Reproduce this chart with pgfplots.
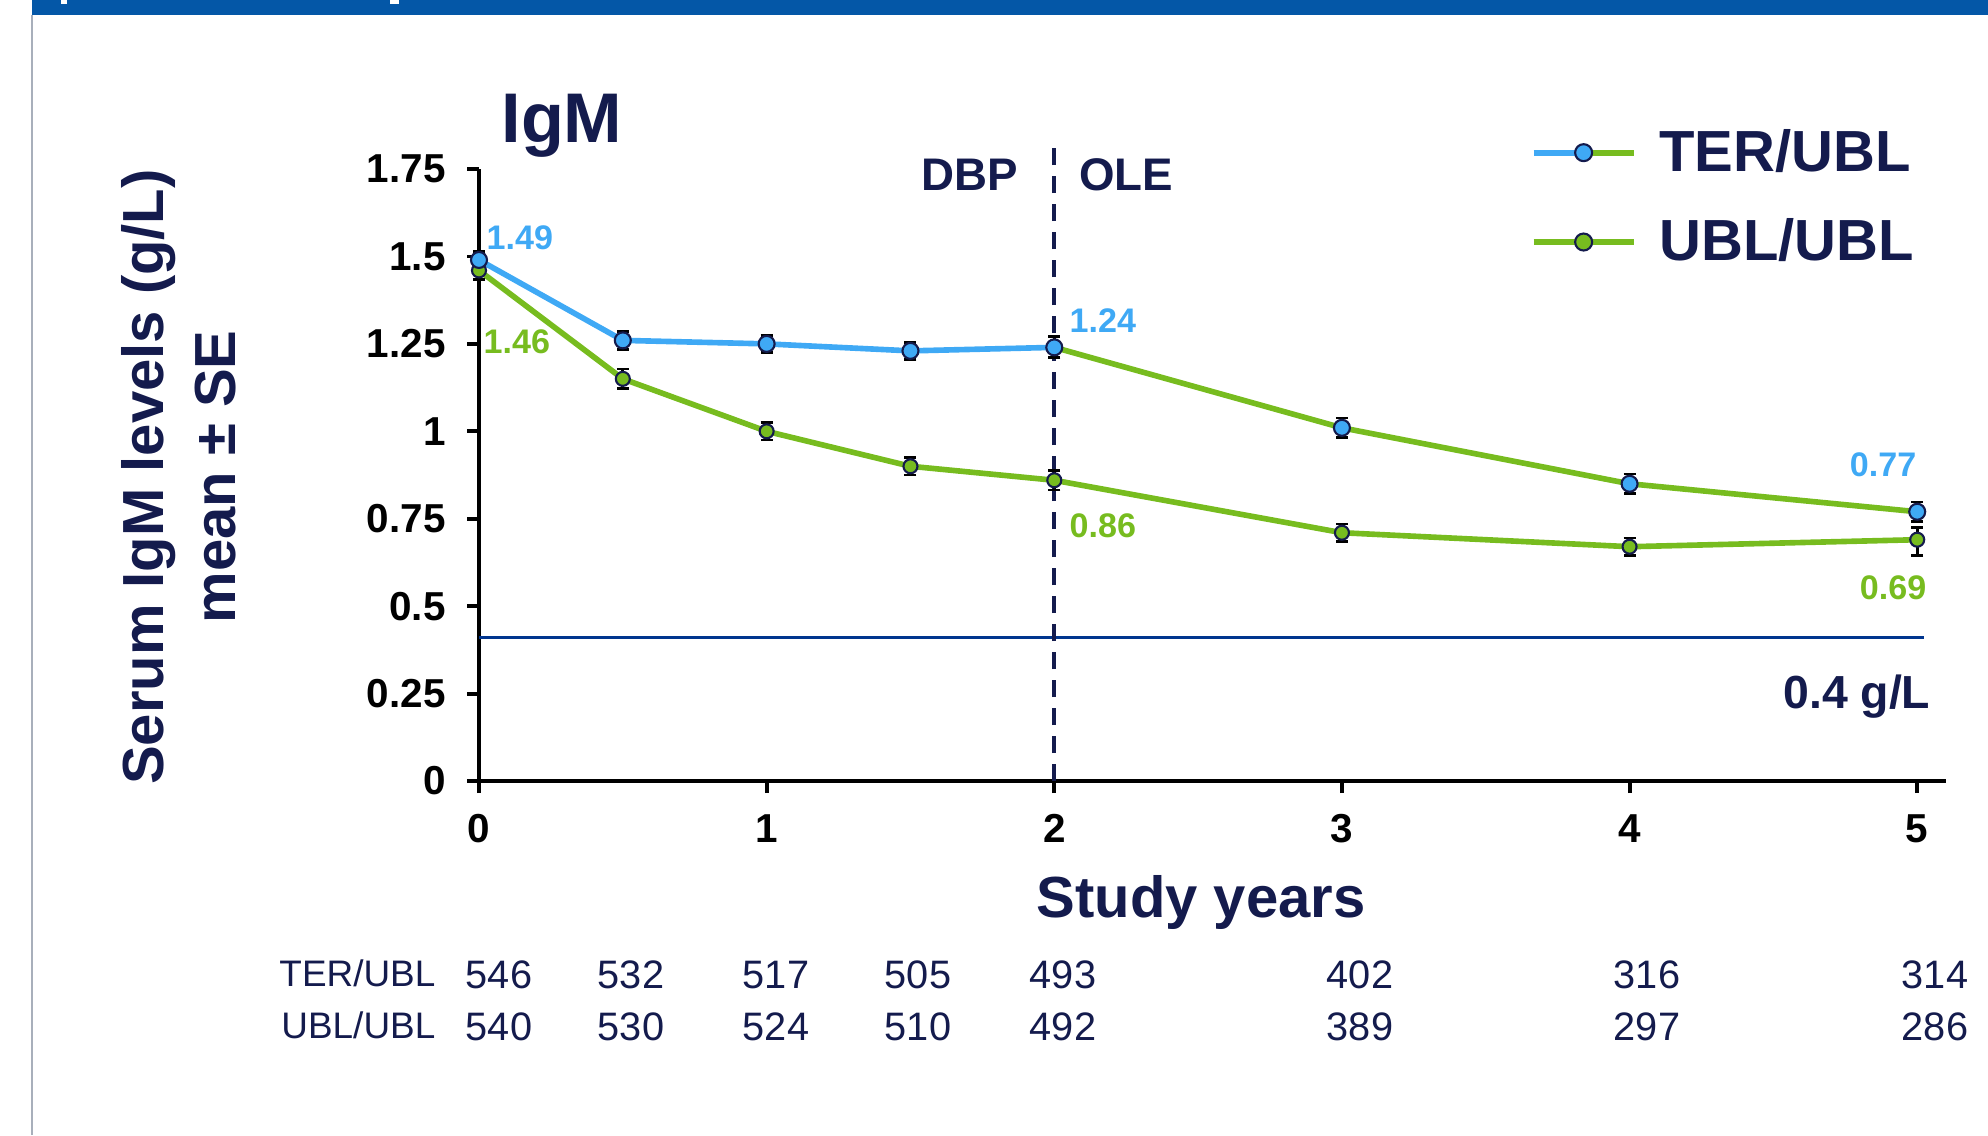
\documentclass[border=0pt]{standalone}
\usepackage{fontspec}
\setmainfont{Liberation Sans}
\usepackage{graphicx}
\usepackage{pgfplots}
\pgfplotsset{compat=1.18}
\definecolor{navy}{HTML}{141B4D}
\definecolor{serblue}{HTML}{3FA9F5}
\definecolor{sergreen}{HTML}{77BC1F}
\definecolor{refblue}{HTML}{00358E}
\definecolor{barblue}{HTML}{0457A7}
\definecolor{edgegray}{HTML}{A8AFBB}

\begin{document}
\begin{tikzpicture}[x=0.1mm,y=0.1mm]
\path[use as bounding box] (0,0) rectangle (1988,1135);
\fill[barblue] (32,1120) rectangle (1988,1135);
\fill[white] (61,1131) rectangle (67,1135);
\fill[white] (390,1131) rectangle (399,1135);
\draw[edgegray, line width=0.6pt] (32,0) -- (32,1120);

\begin{axis}[
  at={(47.9mm,35.4mm)}, anchor=south west,
  scale only axis, width=146.7mm, height=61.2mm,
  xmin=0, xmax=5.1, ymin=0, ymax=1.75,
  axis x line*=bottom, axis y line*=left,
  axis line style={-, black, line width=1.1pt},
  xtick={0,1,2,3,4,5},
  ytick={0,0.25,0.5,0.75,1,1.25,1.5,1.75},
  yticklabels={0,0.25,0.5,0.75,1,1.25,1.5,1.75},
  tick align=outside, major tick length=1.2mm,
  tick style={black, line width=1.1pt},
  /pgf/number format/assume math mode=true,
  x tick label style={font=\fontsize{11.5}{12}\selectfont\bfseries, yshift=-0.9mm},
  y tick label style={font=\fontsize{11.5}{12}\selectfont\bfseries, xshift=-0.9mm},
  clip=false,
  legend style={at={(0.7164,1.078)}, anchor=north west, draw=none, fill=none,
    font=\fontsize{16.5}{18}\selectfont\bfseries, text=navy, row sep=2.8mm,
    inner sep=0pt},
  legend cell align=left,
]
% reference line 0.4 g/L
\addplot[refblue, line width=1.05pt, forget plot] coordinates {(0,0.41) (5.025,0.41)};
\draw[navy, line width=1.1pt, dash pattern=on 1.7mm off 1.1mm] (axis cs:2,0) -- (axis cs:2,1.81);

% lines
\addplot[sergreen, line width=1.6pt, forget plot] coordinates {
  (0,1.46) (0.5,1.15) (1,1.00) (1.5,0.90) (2,0.86) (3,0.71) (4,0.67) (5,0.69)};
\addplot[serblue, line width=1.6pt, forget plot] coordinates {
  (0,1.49) (0.5,1.26) (1,1.25) (1.5,1.23) (2,1.24)};
\addplot[sergreen, line width=1.6pt, forget plot] coordinates {
  (2,1.24) (3,1.01) (4,0.85) (5,0.77)};

% markers with error bars: UBL/UBL
\addplot[only marks, mark=*, mark size=0.7mm,
  mark options={fill=sergreen, draw=navy, line width=0.6pt}, forget plot,
  error bars/.cd, y dir=both, y explicit,
  error bar style={black, line width=0.8pt},
  error mark options={black, rotate=90, mark size=0.6mm, line width=0.8pt}]
  coordinates {
  (0,1.46) +- (0,0.025)
  (0.5,1.15) +- (0,0.028)
  (1,1.00) +- (0,0.025)
  (1.5,0.90) +- (0,0.025)
  (2,0.86) +- (0,0.028)
  (3,0.71) +- (0,0.025)
  (4,0.67) +- (0,0.025)
  (5,0.69) += (0,0.035) -= (0,0.045)
  };
% TER/UBL
\addplot[only marks, mark=*, mark size=0.8mm,
  mark options={fill=serblue, draw=navy, line width=0.6pt}, forget plot,
  error bars/.cd, y dir=both, y explicit,
  error bar style={black, line width=0.8pt},
  error mark options={black, rotate=90, mark size=0.6mm, line width=0.8pt}]
  coordinates {
  (0,1.49) +- (0,0.025)
  (0.5,1.26) +- (0,0.025)
  (1,1.25) +- (0,0.025)
  (1.5,1.23) +- (0,0.025)
  (2,1.24) +- (0,0.03)
  (3,1.01) +- (0,0.028)
  (4,0.85) +- (0,0.028)
  (5,0.77) +- (0,0.028)
  };

\addlegendimage{legend image code/.code={
  \draw[serblue,line width=1.7pt] (0mm,0mm) -- (5mm,0mm);
  \draw[sergreen,line width=1.7pt] (5mm,0mm) -- (10mm,0mm);
  \draw[fill=serblue,draw=navy,line width=0.6pt] (5mm,0mm) circle (0.85mm);
  \path (11.6mm,0mm);}}
\addlegendentry{TER/UBL}
\addlegendimage{legend image code/.code={
  \draw[sergreen,line width=1.7pt] (0mm,0mm) -- (10mm,0mm);
  \draw[fill=sergreen,draw=navy,line width=0.6pt] (5mm,0mm) circle (0.85mm);
  \path (11.8mm,0mm);}}
\addlegendentry{UBL/UBL}
\end{axis}

% titles and labels
\node[font=\fontsize{20}{22}\selectfont\bfseries, text=navy] at (562,1009) {IgM};
\node[font=\fontsize{13}{14}\selectfont\bfseries, text=navy] at (970,960) {DBP};
\node[font=\fontsize{13}{14}\selectfont\bfseries, text=navy] at (1126,960) {OLE};

\begin{scope}[every node/.style={font=\fontsize{9.7}{10}\selectfont\bfseries, inner sep=0pt}]
\node[anchor=west, text=serblue] at (486,897) {1.49};
\node[anchor=west, text=sergreen] at (483,793) {1.46};
\node[anchor=west, text=serblue] at (1069,814) {1.24};
\node[anchor=west, text=sergreen] at (1069,609) {0.86};
\node[anchor=east, text=serblue] at (1917,670) {0.77};
\node[anchor=east, text=sergreen] at (1927,547) {0.69};
\end{scope}
\node[anchor=east, inner sep=0pt, text=navy, font=\fontsize{13.2}{14}\selectfont\bfseries] at (1931,438) {0.4 g/L};

\node[rotate=90, font=\fontsize{16.5}{18}\selectfont\bfseries, text=navy] at (149,658) {Serum IgM levels (g/L)};
\node[rotate=90, font=\fontsize{16.5}{18}\selectfont\bfseries, text=navy] at (216,658) {mean ± SE};
\node[font=\fontsize{16.5}{18}\selectfont\bfseries, text=navy] at (1201,233) {Study years};

% numbers at risk
\begin{scope}[every node/.style={font=\fontsize{11.3}{12}\selectfont, text=navy, inner sep=0pt}]
\node[anchor=east, font=\fontsize{10.5}{12}\selectfont] at (436,162) {TER/UBL};
\node[anchor=east, font=\fontsize{10.5}{12}\selectfont] at (436,110) {UBL/UBL};
\node at (499,160) {546}; \node at (631,160) {532}; \node at (776,160) {517}; \node at (918,160) {505};
\node at (1063,160) {493}; \node at (1360,160) {402}; \node at (1647,160) {316}; \node at (1935,160) {314};
\node at (499,108) {540}; \node at (631,108) {530}; \node at (776,108) {524}; \node at (918,108) {510};
\node at (1063,108) {492}; \node at (1360,108) {389}; \node at (1647,108) {297}; \node at (1935,108) {286};
\end{scope}
\end{tikzpicture}
\end{document}
